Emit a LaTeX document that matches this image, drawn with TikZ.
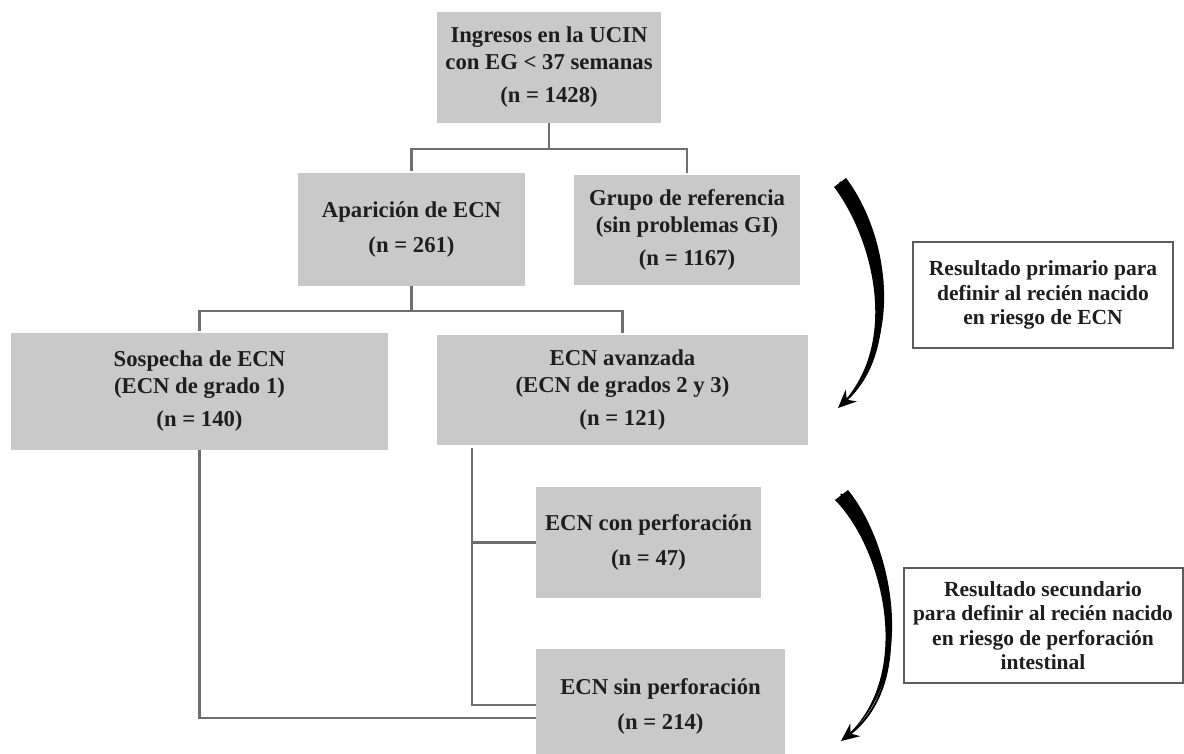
\documentclass[tikz,border=0pt]{standalone}
\usepackage{fontspec}
\setmainfont{Liberation Serif}
\usetikzlibrary{arrows.meta}
\definecolor{boxgray}{HTML}{C9C9C9}
\definecolor{linegray}{HTML}{6E6E6E}
\definecolor{inkgray}{HTML}{1E1E1E}
\definecolor{framegray}{HTML}{5C5C5C}
\begin{document}
\begin{tikzpicture}[x=1pt,y=-1pt,
  stage/.style={fill=boxgray,inner sep=0,align=center,text=inkgray,font=\fontsize{22.7}{27}\selectfont\bfseries},
  note/.style={draw=framegray,line width=2pt,fill=white,inner sep=0,align=center,text=inkgray,font=\fontsize{21.5}{24.5}\selectfont\bfseries},
  link/.style={draw=linegray,line width=2.5pt}]

\useasboundingbox (0,0) rectangle (1184,754);

% boxes of the flow
\node [stage,minimum width=224,minimum height=111] (top) at (549,67.5) {Ingresos en la UCIN\\con EG < 37 semanas\\[6pt](n = 1428)};
\node [stage,minimum width=227,minimum height=113] (apar) at (411.5,229.5) {Aparición de ECN\\[8pt](n = 261)};
\node [stage,minimum width=226,minimum height=110] (grupo) at (687,230) {Grupo de referencia\\(sin problemas GI)\\[6pt](n = 1167)};
\node [stage,minimum width=377,minimum height=117] (sosp) at (199.5,391.5) {Sospecha de ECN\\(ECN de grado 1)\\[6pt](n = 140)};
\node [stage,minimum width=371,minimum height=110] (avanz) at (622.5,390) {ECN avanzada\\(ECN de grados 2 y 3)\\[6pt](n = 121)};
\node [stage,minimum width=225,minimum height=111] (con) at (648.5,542.5) {ECN con perforación\\[8pt](n = 47)};
\node [stage,minimum width=249,minimum height=114] (sin) at (660.5,706) {ECN sin perforación\\[8pt](n = 214)};

% outcome boxes
\node [note,minimum width=260,minimum height=106] (res1) at (1043,295) {Resultado primario para\\definir al recién nacido\\en riesgo de ECN};
\node [note,minimum width=279,minimum height=115] (res2) at (1043,625.5) {Resultado secundario\\para definir al recién nacido\\en riesgo de perforación\\intestinal};

% connectors
\draw [link,shorten >=2pt] (top.south) -- ++(0,26) coordinate (j1) -| (apar.north);
\draw [link,shorten >=2pt] (j1) -| (grupo.north);
\draw [link,shorten >=2pt] (apar.south) -- ++(0,25) coordinate (j2) -| (sosp.north);
\draw [link,shorten >=2pt] (j2) -| (avanz.north);
\draw [link] (sosp.south) |- ([yshift=-12pt]sin.west);
\coordinate (k) at ([xshift=-150.5pt,yshift=-3pt]avanz.south);
\draw [link] (k) |- (con.west);
\draw [link] (k) |- ([yshift=1pt]sin.west);

% curved arrows
\fill [black] (846,178) .. controls (888,233) and (908,345) .. (838,408) .. controls (902,345) and (872,237) .. (834,187) -- cycle;
\draw [black,line width=2pt,-{Stealth[length=18pt,width=16pt]}] (840,182) .. controls (880,235) and (905,345) .. (838,408);

\fill [black] (848,490) .. controls (893,545) and (922,680) .. (841,741) .. controls (916,680) and (884,550) .. (835,500) -- cycle;
\draw [black,line width=2pt,-{Stealth[length=18pt,width=16pt]}] (841,494) .. controls (888,548) and (919,680) .. (841,741);

\end{tikzpicture}
\end{document}
